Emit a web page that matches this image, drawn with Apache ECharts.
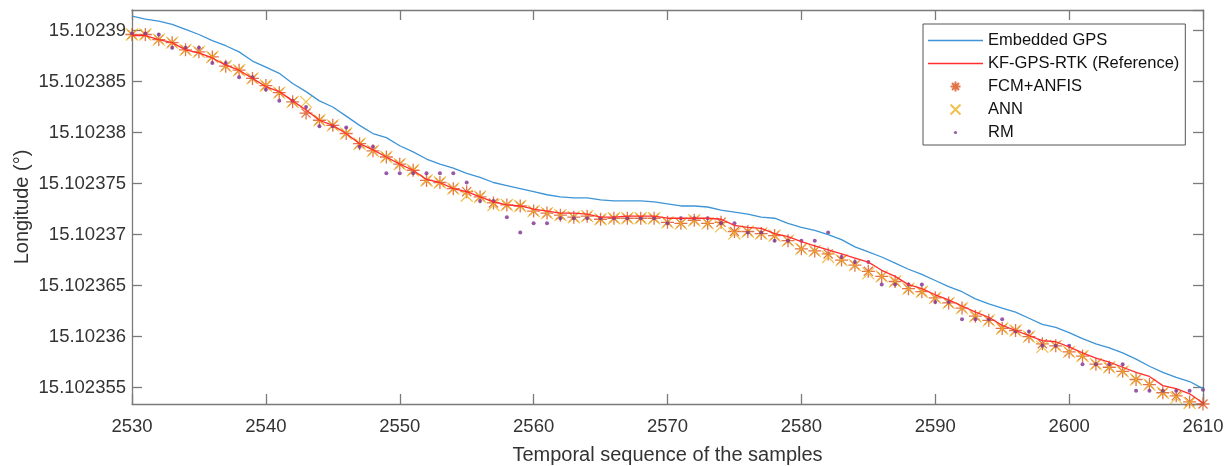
<!DOCTYPE html>
<html>
<head>
<meta charset="utf-8">
<script src="https://cdn.jsdelivr.net/npm/echarts@6/dist/echarts.min.js"></script>
<style>
html, body { margin: 0; padding: 0; background: #fff; }
#chart { width: 1226px; height: 466px; }
</style>
</head>
<body>
<div id="chart"></div>
<script>
// sample index of the first point, one point per sample
const sampleStart = 2530
const xTickMin = 2530
const xTickMax = 2610

const embeddedGps = [
  15.1023914, 15.1023911, 15.1023909, 15.1023906, 15.1023901, 15.1023896, 15.1023890, 15.1023885, 15.1023879, 15.1023870,
  15.1023864, 15.1023858, 15.1023848, 15.1023840, 15.1023831, 15.1023825, 15.1023816, 15.1023807, 15.1023799, 15.1023795,
  15.1023787, 15.1023781, 15.1023774, 15.1023769, 15.1023765, 15.1023760, 15.1023756, 15.1023751, 15.1023748, 15.1023745,
  15.1023742, 15.1023739, 15.1023737, 15.1023736, 15.1023736, 15.1023734, 15.1023733, 15.1023733, 15.1023733, 15.1023732,
  15.1023730, 15.1023728, 15.1023728, 15.1023727, 15.1023724, 15.1023722, 15.1023720, 15.1023717, 15.1023716, 15.1023711,
  15.1023707, 15.1023704, 15.1023700, 15.1023695, 15.1023688, 15.1023683, 15.1023678, 15.1023672, 15.1023666, 15.1023661,
  15.1023655, 15.1023649, 15.1023644, 15.1023637, 15.1023632, 15.1023628, 15.1023624, 15.1023618, 15.1023612, 15.1023609,
  15.1023604, 15.1023598, 15.1023593, 15.1023589, 15.1023584, 15.1023578, 15.1023571, 15.1023565, 15.1023560, 15.1023556,
  15.1023549
]

const kfGpsRtk = [
  15.1023895, 15.1023895, 15.1023891, 15.1023888, 15.1023881, 15.1023878, 15.1023873, 15.1023866, 15.1023861, 15.1023853,
  15.1023845, 15.1023840, 15.1023831, 15.1023822, 15.1023812, 15.1023807, 15.1023799, 15.1023789, 15.1023783, 15.1023776,
  15.1023769, 15.1023763, 15.1023754, 15.1023751, 15.1023745, 15.1023742, 15.1023737, 15.1023732, 15.1023729, 15.1023728,
  15.1023725, 15.1023723, 15.1023721, 15.1023721, 15.1023720, 15.1023717, 15.1023717, 15.1023718, 15.1023718, 15.1023718,
  15.1023716, 15.1023716, 15.1023716, 15.1023716, 15.1023715, 15.1023709, 15.1023707, 15.1023706, 15.1023701, 15.1023698,
  15.1023693, 15.1023689, 15.1023685, 15.1023681, 15.1023677, 15.1023673, 15.1023665, 15.1023659, 15.1023651, 15.1023647,
  15.1023641, 15.1023636, 15.1023630, 15.1023624, 15.1023619, 15.1023611, 15.1023606, 15.1023601, 15.1023596, 15.1023595,
  15.1023590, 15.1023584, 15.1023579, 15.1023575, 15.1023570, 15.1023565, 15.1023561, 15.1023552, 15.1023549, 15.1023544,
  15.1023535
]

const fcmAnfis = [
  15.1023896, 15.1023896, 15.1023891, 15.1023888, 15.1023881, 15.1023879, 15.1023874, 15.1023865, 15.1023861, 15.1023853,
  15.1023846, 15.1023839, 15.1023830, 15.1023819, 15.1023812, 15.1023807, 15.1023799, 15.1023789, 15.1023782, 15.1023776,
  15.1023769, 15.1023763, 15.1023753, 15.1023751, 15.1023745, 15.1023742, 15.1023737, 15.1023731, 15.1023729, 15.1023728,
  15.1023723, 15.1023721, 15.1023719, 15.1023717, 15.1023718, 15.1023715, 15.1023716, 15.1023716, 15.1023716, 15.1023716,
  15.1023712, 15.1023711, 15.1023714, 15.1023711, 15.1023712, 15.1023703, 15.1023703, 15.1023701, 15.1023699, 15.1023694,
  15.1023686, 15.1023684, 15.1023681, 15.1023675, 15.1023670, 15.1023664, 15.1023659, 15.1023654, 15.1023647, 15.1023644,
  15.1023638, 15.1023633, 15.1023628, 15.1023620, 15.1023616, 15.1023608, 15.1023606, 15.1023600, 15.1023593, 15.1023591,
  15.1023585, 15.1023581, 15.1023573, 15.1023570, 15.1023566, 15.1023558, 15.1023553, 15.1023545, 15.1023542, 15.1023536,
  15.1023534
]

const ann = [
  15.1023896, 15.1023896, 15.1023891, 15.1023888, 15.1023881, 15.1023879, 15.1023874, 15.1023865, 15.1023861, 15.1023853,
  15.1023846, 15.1023839, 15.1023830, 15.1023830, 15.1023812, 15.1023807, 15.1023799, 15.1023789, 15.1023782, 15.1023776,
  15.1023769, 15.1023763, 15.1023753, 15.1023751, 15.1023745, 15.1023738, 15.1023737, 15.1023729, 15.1023729, 15.1023728,
  15.1023723, 15.1023721, 15.1023719, 15.1023717, 15.1023718, 15.1023715, 15.1023716, 15.1023716, 15.1023716, 15.1023716,
  15.1023712, 15.1023711, 15.1023714, 15.1023711, 15.1023708, 15.1023701, 15.1023703, 15.1023701, 15.1023699, 15.1023694,
  15.1023686, 15.1023684, 15.1023678, 15.1023675, 15.1023670, 15.1023662, 15.1023659, 15.1023654, 15.1023647, 15.1023644,
  15.1023638, 15.1023633, 15.1023628, 15.1023620, 15.1023616, 15.1023608, 15.1023606, 15.1023600, 15.1023590, 15.1023591,
  15.1023585, 15.1023581, 15.1023573, 15.1023570, 15.1023566, 15.1023558, 15.1023553, 15.1023545, 15.1023540, 15.1023535,
  15.1023533
]

const rm = [
  15.1023897, 15.1023897, 15.1023896, 15.1023883, 15.1023883, 15.1023883, 15.1023868, 15.1023868, 15.1023854, 15.1023854,
  15.1023842, 15.1023831, 15.1023831, 15.1023825, 15.1023806, 15.1023806, 15.1023805, 15.1023786, 15.1023786, 15.1023760,
  15.1023760, 15.1023760, 15.1023760, 15.1023760, 15.1023760, 15.1023751, 15.1023733, 15.1023733, 15.1023717, 15.1023702,
  15.1023711, 15.1023711, 15.1023716, 15.1023716, 15.1023716, 15.1023716, 15.1023716, 15.1023716, 15.1023716, 15.1023716,
  15.1023711, 15.1023716, 15.1023716, 15.1023716, 15.1023711, 15.1023711, 15.1023702, 15.1023702, 15.1023694, 15.1023694,
  15.1023694, 15.1023694, 15.1023702, 15.1023678, 15.1023673, 15.1023673, 15.1023651, 15.1023651, 15.1023651, 15.1023651,
  15.1023634, 15.1023634, 15.1023617, 15.1023617, 15.1023617, 15.1023617, 15.1023605, 15.1023605, 15.1023591, 15.1023591,
  15.1023591, 15.1023573, 15.1023573, 15.1023573, 15.1023573, 15.1023547, 15.1023547, 15.1023547, 15.1023547, 15.1023547,
  15.1023548
]

const yMin = 15.1023534
const yMax = 15.1023920

const font = "'Liberation Sans', Arial, sans-serif"
const starIcon = 'path://M0,-10L0,10M-10,0L10,0M-7,-7L7,7M-7,7L7,-7'
const crossIcon = 'path://M-10,-10L10,10M-10,10L10,-10'
const dotIcon = 'path://M-5,-5L-5,-5M5,5L5,5M1.6,0A1.6,1.6,0,1,1,-1.6,0A1.6,1.6,0,1,1,1.6,0Z'
// thin bar used as the legend sample of the two lines
const lineIcon = 'path://M0,0L55,0L55,1.3L0,1.3Z'

function toPairs (values) {
  return values.map((v, i) => [sampleStart + i, v])
}

const axisGray = '#7a7a7a'
const labelGray = '#333'

const chart = echarts.init(document.getElementById('chart'))
chart.setOption({
  animation: false,
  backgroundColor: '#fff',
  grid: { left: 132, right: 23, top: 10, bottom: 62, outerBoundsMode: 'none' },
  legend: {
    orient: 'vertical',
    left: 923,
    top: 24,
    itemWidth: 55,
    itemHeight: 10,
    itemGap: 6,
    padding: [8, 6, 4, 5],
    backgroundColor: '#fff',
    borderColor: '#555',
    borderWidth: 1,
    borderRadius: 0,
    selectedMode: false,
    textStyle: { fontFamily: font, fontSize: 16.5, color: '#111', lineHeight: 16 },
    data: [
      { name: 'Embedded GPS', icon: lineIcon },
      { name: 'KF-GPS-RTK (Reference)', icon: lineIcon },
      { name: 'FCM+ANFIS', icon: starIcon },
      { name: 'ANN', icon: crossIcon },
      { name: 'RM', icon: dotIcon }
    ]
  },
  xAxis: [
    {
      type: 'value',
      min: xTickMin,
      max: xTickMax,
      interval: 10,
      name: 'Temporal sequence of the samples',
      nameLocation: 'middle',
      nameGap: 41,
      nameMoveOverlap: false,
      nameTextStyle: { fontFamily: font, fontSize: 20, color: labelGray },
      axisLine: { lineStyle: { color: axisGray, width: 1.3 } },
      axisTick: { inside: true, length: 10, lineStyle: { color: axisGray, width: 1.3 } },
      axisLabel: { fontFamily: font, fontSize: 18.5, color: labelGray, margin: 13, formatter: v => String(v) },
      splitLine: { show: false }
    },
    {
      type: 'value',
      position: 'top',
      min: xTickMin,
      max: xTickMax,
      interval: 10,
      axisLine: { lineStyle: { color: axisGray, width: 1.3 } },
      axisTick: { inside: true, length: 10, lineStyle: { color: axisGray, width: 1.3 } },
      axisLabel: { show: false },
      splitLine: { show: false }
    }
  ],
  yAxis: [
    {
      type: 'value',
      min: yMin,
      max: yMax,
      splitNumber: 8,
      scale: true,
      name: 'Longitude (°)',
      nameLocation: 'middle',
      nameGap: 100,
      nameMoveOverlap: false,
      nameTextStyle: { fontFamily: font, fontSize: 20, color: labelGray },
      axisLine: { show: true, lineStyle: { color: axisGray, width: 1.3 } },
      axisTick: { show: true, inside: true, length: 10, lineStyle: { color: axisGray, width: 1.3 } },
      axisLabel: { fontFamily: font, fontSize: 18.5, color: labelGray, margin: 6, showMinLabel: false, showMaxLabel: false },
      splitLine: { show: false }
    },
    {
      type: 'value',
      position: 'right',
      min: yMin,
      max: yMax,
      splitNumber: 8,
      scale: true,
      axisLine: { show: true, lineStyle: { color: axisGray, width: 1.3 } },
      axisTick: { show: true, inside: true, length: 10, lineStyle: { color: axisGray, width: 1.3 } },
      axisLabel: { show: false },
      splitLine: { show: false }
    }
  ],
  series: [
    {
      name: 'Embedded GPS',
      type: 'line',
      symbol: 'none',
      color: '#3d94d6',
      lineStyle: { color: '#3d94d6', width: 1.3 },
      data: toPairs(embeddedGps)
    },
    {
      name: 'KF-GPS-RTK (Reference)',
      type: 'line',
      symbol: 'none',
      color: '#ff2f2f',
      lineStyle: { color: '#ff2f2f', width: 1.3 },
      data: toPairs(kfGpsRtk)
    },
    {
      name: 'FCM+ANFIS',
      type: 'scatter',
      symbol: starIcon,
      symbolSize: 13,
      itemStyle: { color: 'none', borderColor: '#d95319', borderWidth: 1.3 },
      data: toPairs(fcmAnfis)
    },
    {
      name: 'ANN',
      type: 'scatter',
      symbol: crossIcon,
      symbolSize: 12,
      itemStyle: { color: 'none', borderColor: '#edb120', borderWidth: 1.2 },
      data: toPairs(ann)
    },
    {
      name: 'RM',
      type: 'scatter',
      symbol: 'circle',
      symbolSize: 4,
      itemStyle: { color: '#7e2f8e' },
      data: toPairs(rm)
    }
  ]
})
</script>
</body>
</html>
